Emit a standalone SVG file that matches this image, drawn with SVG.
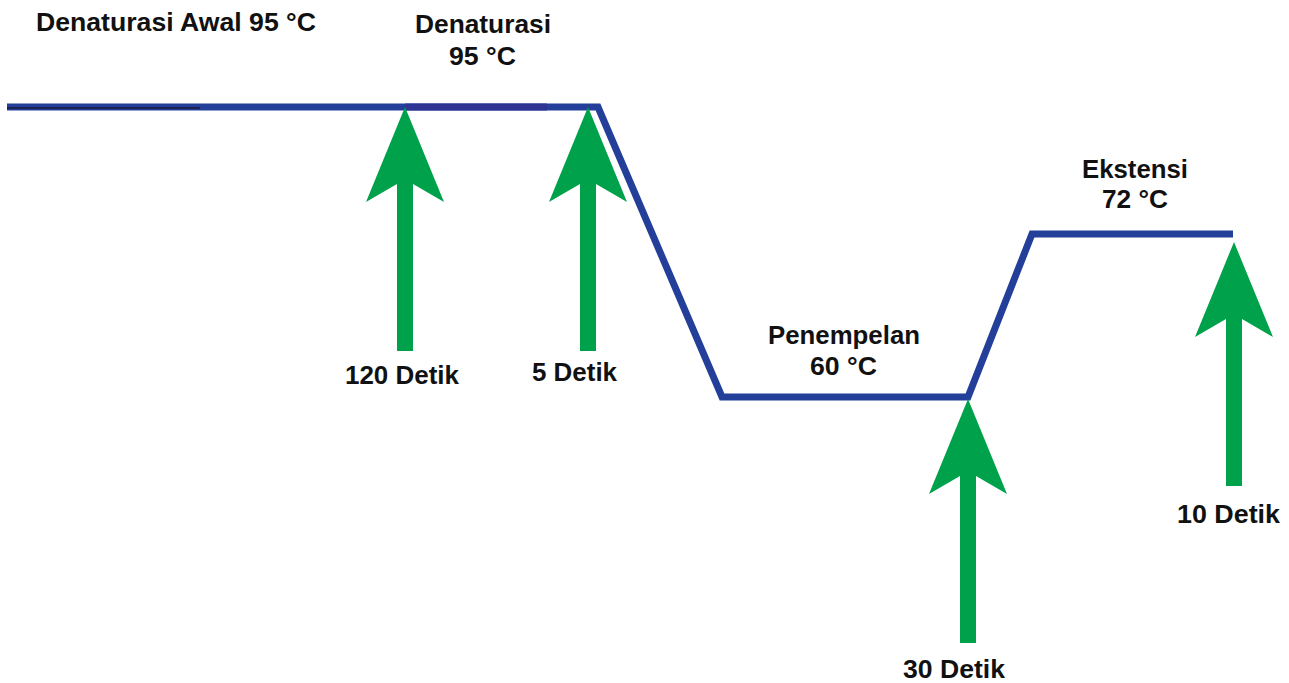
<svg xmlns="http://www.w3.org/2000/svg" width="1289" height="683" viewBox="0 0 1289 683">
<style>
text{font-family:"Liberation Sans",Arial,sans-serif;font-weight:bold;font-size:25px;fill:#111;}
.temp{fill:none;stroke:#233f99;stroke-width:7;stroke-linejoin:miter;}
.arrow{fill:#00a14b;}
</style>
<defs>
<path id="arr" d="M0,0 L39,95 L8,77 L8,244 L-8,244 L-8,77 L-39,95 Z"/>
</defs>
<rect width="1289" height="683" fill="#fff"/>
<g id="connectors">
<polyline class="temp" points="7,107 598,107 722,397 968,397 1032,234 1233,234"/>
<line x1="405" y1="107" x2="547" y2="107" stroke="#2e3592" stroke-width="7"/>
<line x1="7" y1="108" x2="200" y2="108" stroke="#1c2250" stroke-width="2"/>
<use href="#arr" class="arrow" x="405" y="107"/>
<use href="#arr" class="arrow" x="588" y="107"/>
<use href="#arr" class="arrow" x="968" y="399"/>
<use href="#arr" class="arrow" x="1234" y="242"/>
</g>
<g id="denaturasi-awal">
<text x="36" y="31" textLength="280" lengthAdjust="spacingAndGlyphs">Denaturasi Awal 95 °C</text>
</g>
<g id="denaturasi">
<text x="415" y="33" textLength="136" lengthAdjust="spacingAndGlyphs">Denaturasi</text>
<text x="449" y="65" textLength="67" lengthAdjust="spacingAndGlyphs">95 °C</text>
</g>
<g id="penempelan">
<text x="768" y="344" textLength="152" lengthAdjust="spacingAndGlyphs">Penempelan</text>
<text x="810" y="375" textLength="67" lengthAdjust="spacingAndGlyphs">60 °C</text>
</g>
<g id="ekstensi">
<text x="1082" y="178" textLength="106" lengthAdjust="spacingAndGlyphs">Ekstensi</text>
<text x="1102" y="208" textLength="66" lengthAdjust="spacingAndGlyphs">72 °C</text>
</g>
<g id="t120">
<text x="345" y="384" textLength="114" lengthAdjust="spacingAndGlyphs">120 Detik</text>
</g>
<g id="t5">
<text x="532" y="381" textLength="85" lengthAdjust="spacingAndGlyphs">5 Detik</text>
</g>
<g id="t30">
<text x="903" y="678" textLength="102" lengthAdjust="spacingAndGlyphs">30 Detik</text>
</g>
<g id="t10">
<text x="1177" y="523" textLength="103" lengthAdjust="spacingAndGlyphs">10 Detik</text>
</g>
</svg>
